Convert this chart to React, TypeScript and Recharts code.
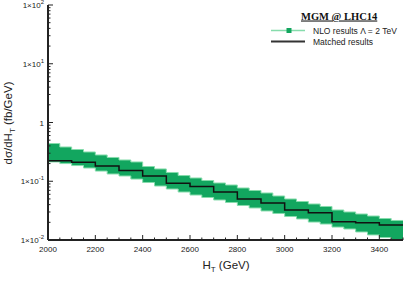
import React from 'react';
import { ComposedChart, Area, Line, XAxis, YAxis } from 'recharts';

// bin edges (GeV), 50 GeV steps for the NLO band
const binEdges = [
  2000, 2050, 2100, 2150, 2200, 2250, 2300, 2350, 2400, 2450, 2500,
  2550, 2600, 2650, 2700, 2750, 2800, 2850, 2900, 2950, 3000,
  3050, 3100, 3150, 3200, 3250, 3300, 3350, 3400, 3450, 3500,
];

// NLO uncertainty band (fb/GeV), one value per 50 GeV bin
const nloUpper = [
  0.439, 0.383, 0.347, 0.315, 0.28, 0.254, 0.23, 0.213, 0.178, 0.162,
  0.141, 0.125, 0.1136, 0.103, 0.0934, 0.0863, 0.0768, 0.0696, 0.0631, 0.0561,
  0.0499, 0.0452, 0.041, 0.0372, 0.0324, 0.03, 0.0277, 0.0256, 0.0232, 0.0215,
];
const nloLower = [
  0.213, 0.2, 0.185, 0.168, 0.149, 0.133, 0.123, 0.109, 0.0953, 0.083,
  0.0738, 0.0656, 0.0583, 0.0529, 0.048, 0.0435, 0.0387, 0.0351, 0.0312, 0.0283,
  0.0251, 0.0228, 0.0202, 0.0187, 0.0166, 0.0154, 0.0137, 0.0122, 0.011, 0.0092,
];

// matched results, one value per 100 GeV bin
const matched = [
  0.224, 0.21, 0.182, 0.152, 0.123, 0.0923, 0.0814, 0.0656, 0.0499, 0.0427,
  0.0324, 0.0292, 0.0205, 0.0197, 0.018,
];

const xTicks = binEdges;
const yTicks = [
  0.01, 0.02, 0.03, 0.04, 0.05, 0.06, 0.07, 0.08, 0.09,
  0.1, 0.2, 0.3, 0.4, 0.5, 0.6, 0.7, 0.8, 0.9,
  1, 2, 3, 4, 5, 6, 7, 8, 9,
  10, 20, 30, 40, 50, 60, 70, 80, 90, 100,
];

const data = binEdges.map((x, i) => {
  const b = Math.min(i, nloUpper.length - 1);
  const m = Math.min(Math.floor(i / 2), matched.length - 1);
  return { x, band: [nloLower[b], nloUpper[b]], matched: matched[m] };
});

const FONT = '"Liberation Sans", Arial, sans-serif';
const AXIS = '#222';

const XTick = (props: any) => {
  const { x, y, payload } = props;
  const v = payload.value;
  const major = v % 200 === 0;
  return (
    <g>
      <line x1={x} x2={x} y1={y} y2={y - (major ? 5 : 2.5)} stroke={AXIS} strokeWidth={1} />
      {major && (
        <text x={x} y={y + 12} textAnchor="middle" fontSize={8} fontFamily={FONT} fill={AXIS}>
          {v}
        </text>
      )}
    </g>
  );
};

const YTick = (props: any) => {
  const { x, y, payload } = props;
  const v = payload.value;
  const lg = Math.log10(v);
  const e = Math.round(lg);
  const major = Math.abs(lg - e) < 1e-6;
  return (
    <g>
      <line x1={x} x2={x + (major ? 5 : 2.5)} y1={y} y2={y} stroke={AXIS} strokeWidth={1} />
      {major && (
        <text x={x - 4} y={y + 3} textAnchor="end" fontSize={8} fontFamily={FONT} fill={AXIS}>
          {e === 0 ? '1' : '1×10'}
          {e !== 0 && (
            <tspan dy={-4} fontSize={6}>
              {e}
            </tspan>
          )}
        </text>
      )}
    </g>
  );
};

export default function App() {
  return (
    <div style={{ position: 'absolute', left: 0, top: 0, width: 409, height: 289, background: '#fff' }}>
      <ComposedChart width={409} height={289} data={data} margin={{ top: 5, right: 6, left: 0, bottom: 0 }}>
        <XAxis
          dataKey="x"
          type="number"
          domain={[2000, 3500]}
          ticks={xTicks}
          interval={0}
          tick={<XTick />}
          tickLine={false}
          tickSize={0}
          tickMargin={0}
          height={49}
          axisLine={{ stroke: AXIS, strokeWidth: 2 }}
        />
        <XAxis
          xAxisId="top"
          orientation="top"
          dataKey="x"
          type="number"
          domain={[2000, 3500]}
          tick={false}
          tickLine={false}
          height={0}
          axisLine={{ stroke: AXIS, strokeWidth: 1.5 }}
        />
        <YAxis
          type="number"
          scale="log"
          domain={[0.01, 100]}
          allowDataOverflow
          ticks={yTicks}
          interval={0}
          tick={<YTick />}
          tickLine={false}
          tickSize={0}
          tickMargin={0}
          width={48}
          axisLine={{ stroke: AXIS, strokeWidth: 2 }}
        />
        <YAxis
          yAxisId="right"
          orientation="right"
          type="number"
          scale="log"
          domain={[0.01, 100]}
          tick={false}
          tickLine={false}
          width={0}
          axisLine={{ stroke: AXIS, strokeWidth: 1.5 }}
        />
        <Area
          dataKey="band"
          type="stepAfter"
          fill="#12a65f"
          fillOpacity={1}
          stroke="#86dcac"
          strokeWidth={1}
          isAnimationActive={false}
        />
        <Line
          dataKey="matched"
          type="stepAfter"
          stroke="#111"
          strokeWidth={1.5}
          dot={false}
          isAnimationActive={false}
        />
      </ComposedChart>
      <svg
        width={409}
        height={289}
        style={{ position: 'absolute', left: 0, top: 0, pointerEvents: 'none' }}
      >
        <text x={226} y={269} textAnchor="middle" fontSize={11.5} fontFamily={FONT} fill={AXIS}>
          H<tspan dy={3} fontSize={8}>T</tspan>
          <tspan dy={-3}> (GeV)</tspan>
        </text>
        <text
          transform="translate(12,123) rotate(-90)"
          textAnchor="middle"
          fontSize={11.5}
          fontFamily={FONT}
          fill={AXIS}
        >
          dσ/dH<tspan dy={3} fontSize={8}>T</tspan>
          <tspan dy={-3}> (fb/GeV)</tspan>
        </text>
        <text
          x={301}
          y={19.5}
          fontSize={10.5}
          fontWeight="bold"
          fontFamily='"Liberation Serif", "Times New Roman", serif'
          textDecoration="underline"
          fill="#111"
        >
          MGM @ LHC14
        </text>
        <line x1={271} x2={305} y1={30.5} y2={30.5} stroke="#86dcac" strokeWidth={1.5} />
        <rect x={286.5} y={28} width={5} height={5} fill="#12a65f" />
        <text x={313} y={33.5} fontSize={8.5} fontFamily={FONT} fill={AXIS}>
          NLO results Λ = 2 TeV
        </text>
        <line x1={271} x2={305} y1={41.5} y2={41.5} stroke="#333" strokeWidth={2} />
        <text x={313} y={44.5} fontSize={8.5} fontFamily={FONT} fill={AXIS}>
          Matched results
        </text>
      </svg>
    </div>
  );
}
